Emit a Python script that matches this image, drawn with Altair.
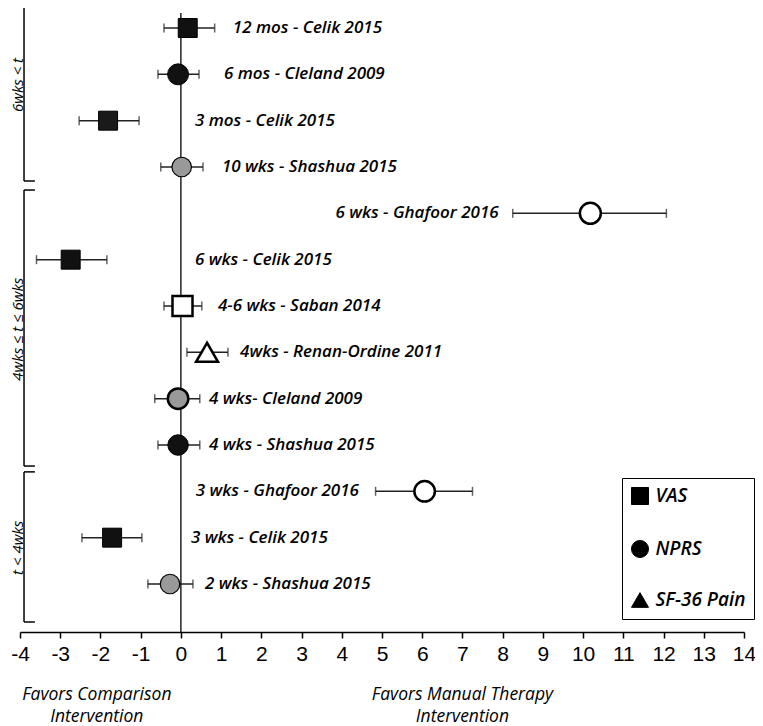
import altair as alt
import pandas as pd

# ---- data ----
row = list(range(1, 14))
labels = [
    "12 mos - Celik 2015",
    "6 mos - Cleland 2009",
    "3 mos - Celik 2015",
    "10 wks - Shashua 2015",
    "6 wks - Ghafoor 2016",
    "6 wks - Celik 2015",
    "4-6 wks - Saban 2014",
    "4wks - Renan-Ordine 2011",
    "4 wks- Cleland 2009",
    "4 wks - Shashua 2015",
    "3 wks - Ghafoor 2016",
    "3 wks - Celik 2015",
    "2 wks - Shashua 2015",
]
effect = [0.17, -0.07, -1.81, 0.02, 10.18, -2.74, 0.04, 0.65, -0.07, -0.07, 6.06, -1.71, -0.27]
ci_low = [-0.42, -0.57, -2.53, -0.50, 8.25, -3.59, -0.42, 0.15, -0.65, -0.57, 4.84, -2.46, -0.82]
ci_high = [0.84, 0.45, -1.04, 0.55, 12.07, -1.84, 0.52, 1.17, 0.47, 0.47, 7.25, -0.97, 0.30]
measure = ["VAS", "NPRS", "VAS", "NPRS", "NPRS", "VAS", "VAS", "SF-36 Pain",
           "NPRS", "NPRS", "NPRS", "VAS", "NPRS"]
fill = ["#111111", "#111111", "#1a1a1a", "#999999", "white", "#111111", "white", "white",
        "#999999", "#111111", "white", "#111111", "#999999"]
stroke_w = [1, 1, 1, 1.2, 2.5, 1, 2.5, 2.5, 2.5, 1, 2.5, 1, 1.2]
mark_size = [360, 440, 360, 380, 440, 360, 400, 480, 420, 420, 420, 360, 380]
label_x = [1.29, 1.07, 0.35, 1.02, 7.90, 0.35, 0.92, 1.47, 0.70, 0.70, 0.37, 0.25, 0.60]
label_align = ["left", "left", "left", "left", "right", "left", "left", "left",
               "left", "left", "left", "left", "left"]

groups = ["6wks  < t", "4wks ≤ t  ≤ 6wks", "t < 4wks"]
group_start = [0.504, 4.497, 10.58]
group_end = [4.302, 10.454, 13.82]
group_mid = [2.23, 7.50, 12.22]

x_ticks = list(range(-4, 15))
foot_text = ["Favors Comparison", "Intervention", "Favors Manual Therapy", "Intervention"]
foot_x = [-2.09, -2.09, 7.0, 7.0]
foot_row = [15.40, 15.87, 15.40, 15.87]

legend_order = ["VAS", "NPRS", "SF-36 Pain"]
legend_shapes = ["square", "circle", "triangle-up"]

# ---- tables ----
df = pd.DataFrame(dict(row=row, label=labels, effect=effect, lo=ci_low, hi=ci_high,
                       measure=measure, fill=fill, sw=stroke_w, size=mark_size,
                       lx=label_x, align=label_align))
gdf = pd.DataFrame(dict(group=groups, ys=group_start, ye=group_end, ym=group_mid))
fdf = pd.DataFrame(dict(text=foot_text, x=foot_x, y=foot_row))

X_DOM = [-4, 14]
Y_DOM = [0.676, 14.036]
xs = alt.Scale(domain=X_DOM, nice=False, zero=False)
ys = alt.Scale(domain=Y_DOM, nice=False, zero=False, reverse=True)

base = alt.Chart(df)

zero_line = alt.Chart(pd.DataFrame({"x": [0], "y": [Y_DOM[0]], "y2": [Y_DOM[1]]})).mark_rule(
    color="black", strokeWidth=1.3
).encode(
    x=alt.X("x:Q", scale=xs,
            axis=alt.Axis(values=x_ticks, labelExpr="'' + datum.value",
                          labelFont="Liberation Sans", labelFontSize=21,
                          labelColor="black", domainColor="black", tickColor="black",
                          tickSize=6, domainWidth=1.5, tickWidth=1.5, grid=False,
                          labelPadding=5, labelFlush=False, title=None)),
    y=alt.Y("y:Q", scale=ys, axis=None),
    y2="y2:Q",
)

err = base.mark_rule(color="#222222", strokeWidth=1.5).encode(
    x=alt.X("lo:Q", scale=xs), x2="hi:Q", y=alt.Y("row:Q", scale=ys)
)

caps = base.transform_fold(["lo", "hi"], as_=["end", "val"]).mark_tick(
    orient="vertical", size=9, thickness=1.5, color="#222222"
).encode(x=alt.X("val:Q", scale=xs), y=alt.Y("row:Q", scale=ys))

points = base.mark_point(filled=True, stroke="black", opacity=1).encode(
    x=alt.X("effect:Q", scale=xs),
    y=alt.Y("row:Q", scale=ys),
    shape=alt.Shape(
        "measure:N",
        scale=alt.Scale(domain=legend_order, range=legend_shapes),
        legend=alt.Legend(
            title=None, orient="none", legendX=602, legendY=465,
            strokeColor="black", fillColor="white", padding=8.5,
            symbolFillColor="black", symbolStrokeColor="black", symbolSize=290,
            symbolStrokeWidth=1, rowPadding=30, labelOffset=6,
            labelFont="Open Sans", labelFontSize=19, labelFontStyle="italic",
            labelFontWeight=600, labelColor="black", symbolType="circle",
        ),
    ),
    fill=alt.Fill("fill:N", scale=None),
    strokeWidth=alt.StrokeWidth("sw:Q", scale=None),
    size=alt.Size("size:Q", scale=None),
)

LABEL_FONT = dict(font="Open Sans", fontSize=17, fontStyle="italic", fontWeight=600,
                  color="black", baseline="middle")

text_left = base.transform_filter("datum.align == 'left'").mark_text(
    align="left", **LABEL_FONT
).encode(x=alt.X("lx:Q", scale=xs), y=alt.Y("row:Q", scale=ys), text="label:N")

text_right = base.transform_filter("datum.align == 'right'").mark_text(
    align="right", **LABEL_FONT
).encode(x=alt.X("lx:Q", scale=xs), y=alt.Y("row:Q", scale=ys), text="label:N")

gbase = alt.Chart(gdf).transform_calculate(bx="-3.9", lip="-3.63")
bracket_v = gbase.mark_rule(color="black", strokeWidth=1.5).encode(
    x=alt.X("bx:Q", scale=xs), y=alt.Y("ys:Q", scale=ys), y2="ye:Q"
)
bracket_top = gbase.mark_rule(color="black", strokeWidth=1.5).encode(
    x=alt.X("bx:Q", scale=xs), x2="lip:Q", y=alt.Y("ys:Q", scale=ys)
)
bracket_bot = gbase.mark_rule(color="black", strokeWidth=1.5).encode(
    x=alt.X("bx:Q", scale=xs), x2="lip:Q", y=alt.Y("ye:Q", scale=ys)
)
group_text = gbase.transform_calculate(tx="-4.05").mark_text(
    angle=270, align="center", baseline="middle", font="Open Sans", fontSize=15,
    fontStyle="italic", color="black"
).encode(x=alt.X("tx:Q", scale=xs), y=alt.Y("ym:Q", scale=ys), text="group:N")

foot = alt.Chart(fdf).mark_text(
    align="center", baseline="middle", font="Open Sans", fontSize=17.5,
    fontStyle="italic", color="black"
).encode(x=alt.X("x:Q", scale=xs), y=alt.Y("y:Q", scale=ys), text="text:N")

chart = alt.layer(
    zero_line, bracket_v, bracket_top, bracket_bot, group_text, err, caps, points,
    text_left, text_right, foot
).properties(
    width=724, height=619,
    autosize=alt.AutoSizeParams(type="none"),
    padding={"left": 12, "top": 5, "right": 11, "bottom": 94},
).configure_view(stroke=None)

chart.save("out.html", embed_options={"renderer": "svg", "actions": False})
